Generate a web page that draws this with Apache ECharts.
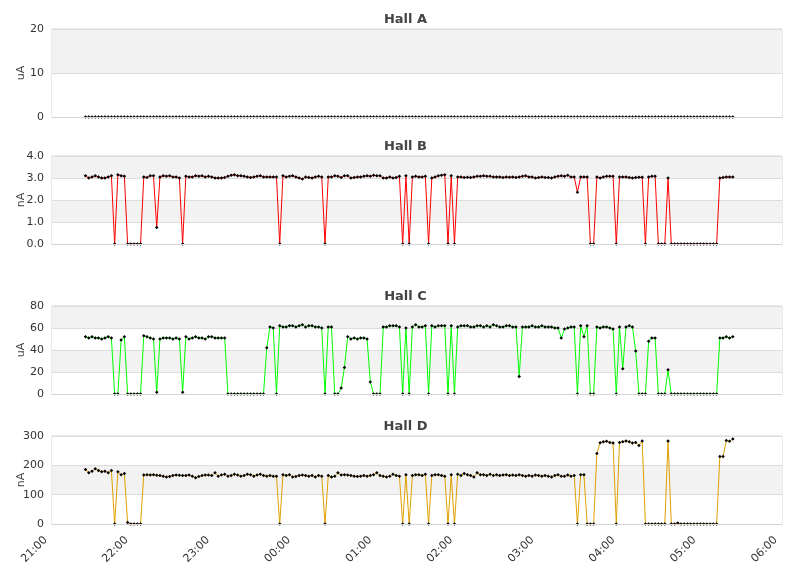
<!DOCTYPE html>
<html>
<head>
<meta charset="utf-8">
<script src="https://cdn.jsdelivr.net/npm/echarts/dist/echarts.min.js"></script>
<style>html,body{margin:0;padding:0;background:#fff}#chart{width:811px;height:578px}</style>
</head>
<body>
<div id="chart"></div>
<script>
// x tick labels (one per hour, 21:00 .. 06:00)
const xTickLabels = ['21:00','22:00','23:00','00:00','01:00','02:00','03:00','04:00','05:00','06:00'];
// sampling: first sample ~21:25, one sample about every 2.4 minutes (minutes after 21:00)
const startMinutes = 24.8;
const stepMinutes = 2.394;

const hallA = [
0,0,0,0,0,0,0,0,0,0,0,0,0,0,0,0,0,0,0,0,
0,0,0,0,0,0,0,0,0,0,0,0,0,0,0,0,0,0,0,0,
0,0,0,0,0,0,0,0,0,0,0,0,0,0,0,0,0,0,0,0,
0,0,0,0,0,0,0,0,0,0,0,0,0,0,0,0,0,0,0,0,
0,0,0,0,0,0,0,0,0,0,0,0,0,0,0,0,0,0,0,0,
0,0,0,0,0,0,0,0,0,0,0,0,0,0,0,0,0,0,0,0,
0,0,0,0,0,0,0,0,0,0,0,0,0,0,0,0,0,0,0,0,
0,0,0,0,0,0,0,0,0,0,0,0,0,0,0,0,0,0,0,0,
0,0,0,0,0,0,0,0,0,0,0,0,0,0,0,0,0,0,0,0,
0,0,0,0,0,0,0,0,0,0,0,0,0,0,0,0,0,0,0,0,
0
];

const hallB = [
3.1,3.0,3.05,3.1,3.05,3.0,3.0,3.05,3.1,
0,
3.15,3.1,3.08,
0,0,0,0,0,
3.05,3.02,3.1,3.1,
0.75,
3.05,3.1,3.08,3.1,3.05,3.05,3.0,
0,
3.08,3.05,3.05,3.1,3.08,3.1,3.05,3.08,3.05,3.0,3.0,3.0,3.02,3.08,3.12,3.15,3.1,3.1,3.08,3.05,3.02,3.05,3.08,3.1,3.05,3.05,3.05,3.05,3.05,
0,
3.1,3.05,3.08,3.1,3.05,3.0,2.95,3.05,3.02,3.0,3.05,3.08,3.05,
0,
3.05,3.05,3.1,3.08,3.02,3.1,3.1,3.0,3.02,3.05,3.05,3.08,3.1,3.08,3.12,3.1,3.1,3.0,3.0,3.05,3.0,3.02,3.08,
0,
3.1,
0,
3.05,3.08,3.05,3.05,3.08,
0,
3.0,3.05,3.1,3.12,3.15,
0,
3.1,
0,
3.05,3.05,3.02,3.03,3.02,3.05,3.08,3.08,3.1,3.08,3.08,3.05,3.05,3.05,3.02,3.05,3.03,3.05,3.02,3.05,3.08,3.1,3.05,3.05,3.0,3.02,3.05,3.02,3.02,3.0,3.05,3.08,3.1,3.08,3.12,3.05,3.05,
2.35,
3.05,3.05,3.05,
0,0,
3.05,3.0,3.05,3.08,3.08,3.08,
0,
3.05,3.05,3.05,3.02,3.0,3.02,3.03,3.03,
0,
3.05,3.08,3.08,
0,0,0,
3.0,
0,0,0,0,0,0,0,0,0,0,0,0,0,0,0,
3.0,3.02,3.05,3.05,3.05
];

const hallC = [
52,51,52,51,51,50,51,52,51,
0,0,
49,52,
0,0,0,0,0,
53,52,51,50,
1.5,
50,51,51,51,50,51,50,
1.5,
52,50,51,52,51,51,50,52,52,51,51,51,51,
0,0,0,0,0,0,0,0,0,0,0,0,
42,
61,60,
0,
62,61,61,62,62,61,62,63,61,62,62,61,61,60,
0,
61,61,
0,0,
5.5,
24,
52,50,51,50,51,51,50,
11,
0,0,0,
61,61,62,62,62,61,
0,
60,
0,
61,63,61,61,62,
0,
62,61,62,62,62,
0,
62,
0,
61,62,62,62,61,61,62,62,61,62,61,63,62,61,61,62,62,61,61,
16,
61,61,61,62,61,61,62,61,61,61,60,60,
51,
59,
60,61,61,
0,
62,
52,
62,
0,0,
61,60,61,61,60,59,
0,
61,
23,
61,62,61,
39,
0,0,0,
48,
51,51,
0,0,0,
22,
0,0,0,0,0,0,0,0,0,0,0,0,0,0,0,
51,51,52,51,52
];

const hallD = [
186,175,180,188,182,178,180,175,182,
0,
178,168,172,
5,
0,0,0,0,
167,168,167,168,
166,165,163,160,162,165,167,166,165,165,167,163,158,162,165,167,167,165,175,163,167,170,163,165,170,167,163,165,170,168,163,167,170,165,163,165,163,163,
0,
168,165,168,160,162,165,167,165,163,165,160,165,163,
0,
165,160,163,175,167,168,167,165,163,162,163,165,163,165,168,175,165,163,160,163,170,165,163,
0,
168,
0,
165,168,168,165,170,
0,
165,168,168,165,163,
0,
168,
0,
170,165,172,168,165,160,175,168,168,165,170,165,168,165,167,168,165,167,165,168,165,163,165,163,167,165,163,165,163,160,165,168,163,163,167,163,165,
0,
168,168,
0,0,0,
240,
277,280,282,278,276,
0,
278,280,283,280,276,278,268,283,
0,0,0,0,0,0,0,
283,
0,0,
3,
0,0,0,0,0,0,0,0,0,0,0,0,
230,230,285,282,290
];

const hallTitles = ['Hall A','Hall B','Hall C','Hall D'];
const hallUnits = ['uA','nA','uA','nA'];
const yMax = [20, 4, 80, 300];
const yStep = [10, 1, 20, 100];
const yDecimals = [0, 1, 0, 0];
const lineColors = ['#d0d0d0', '#ff0000', '#00ff00', '#e0a000'];
const allData = [hallA, hallB, hallC, hallD];

const gridTops = [29, 156, 306, 436];
const FONT = 'DejaVu Sans';

const option = {
  animation: false,
  backgroundColor: '#ffffff',
  title: [], grid: [], xAxis: [], yAxis: [], series: []
};

allData.forEach((vals, i) => {
  const top = gridTops[i];
  option.title.push({
    text: hallTitles[i], left: 'center', top: top - 16, padding: 0,
    textStyle: {fontFamily: FONT, fontSize: 13, fontWeight: 'bold', color: '#444444'}
  });
  option.grid.push({
    left: 52, right: 29, top: top, height: 88, show: true,
    containLabel: false, outerBoundsMode: 'none',
    borderColor: '#d4d4d4', borderWidth: 1, backgroundColor: 'transparent'
  });
  option.xAxis.push({
    type: 'value', gridIndex: i, min: 0, max: 540, interval: 60, z: 5,
    axisLine: {show: true, lineStyle: {color: '#d4d4d4', width: 1}},
    axisTick: {show: false},
    splitLine: {show: false},
    axisLabel: {
      show: i === 3, rotate: 45, margin: 8, fontSize: 11, color: '#333333', fontFamily: FONT,
      padding: [0, 9, 0, 0],
      formatter: v => xTickLabels[Math.round(v / 60)]
    }
  });
  option.yAxis.push({
    type: 'value', gridIndex: i, min: 0, max: yMax[i], interval: yStep[i],
    name: hallUnits[i], nameLocation: 'middle', nameGap: 25, nameMoveOverlap: false,
    nameTextStyle: {fontFamily: FONT, fontSize: 11, color: '#444444'},
    axisLine: {show: false}, axisTick: {show: false},
    axisLabel: {margin: 8, fontSize: 11, color: '#333333', fontFamily: FONT,
      formatter: v => v.toFixed(yDecimals[i])},
    splitLine: {show: true, lineStyle: {color: '#dddddd', width: 1}},
    splitArea: {show: true, areaStyle: {color: ['#ffffff', '#f2f2f2']}}
  });
  option.series.push({
    type: 'line', xAxisIndex: i, yAxisIndex: i, name: hallTitles[i],
    data: vals.map((v, j) => [startMinutes + stepMinutes * j, v]),
    symbol: 'diamond', symbolSize: 3.5, showSymbol: true, showAllSymbol: true,
    lineStyle: {color: lineColors[i], width: 1},
    itemStyle: {color: '#000000'},
    silent: true
  });
});

const chart = echarts.init(document.getElementById('chart'), null, {renderer: 'canvas'});
chart.setOption(option);
</script>
</body>
</html>
